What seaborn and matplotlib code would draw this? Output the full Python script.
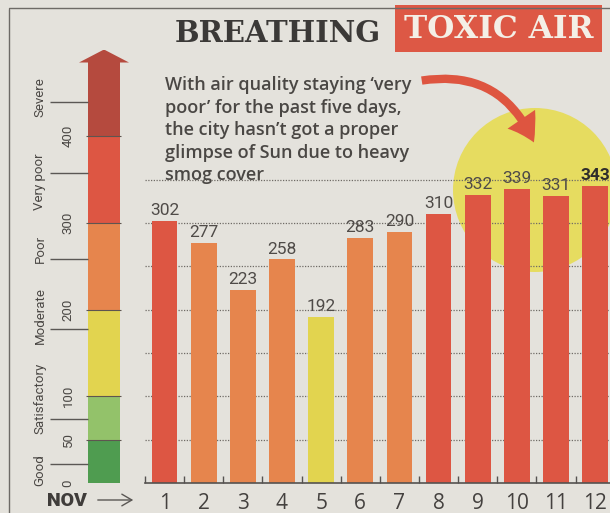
import matplotlib
matplotlib.use("Agg")
import matplotlib.pyplot as plt
import seaborn as sns
from matplotlib import font_manager
from matplotlib.patches import Circle, Polygon, FancyArrowPatch, Rectangle

# Daily AQI, November
days = ["1", "2", "3", "4", "5", "6", "7", "8", "9", "10", "11", "12"]
aqi = [302, 277, 223, 258, 192, 283, 290, 310, 332, 339, 331, 343]

# AQI category scale
band_names = ["Good", "Satisfactory", "Moderate", "Poor", "Very poor", "Severe"]
band_lower = [0, 50, 100, 200, 300, 400]
band_upper = [50, 100, 200, 300, 400, 486]
band_colors = ["#4f9c50", "#93c26a", "#e2d44f", "#e6854d", "#dd5643", "#b54a3e"]
scale_ticks = [0, 50, 100, 200, 300, 400]

PAPER = "#e4e2dc"
INK = "#4b4845"

names = {f.name for f in font_manager.fontManager.ttflist}
NARROW = "Liberation Sans Narrow" if "Liberation Sans Narrow" in names else "Roboto"
SANS = "Open Sans"


def band_color(v):
    idx = 0
    for i, lo in enumerate(band_lower):
        if v > lo:
            idx = i
    return band_colors[idx]


bar_colors = [band_color(v) for v in aqi]

sns.set_theme(style="white")
plt.rcParams["font.family"] = [SANS, "DejaVu Sans"]

fig = plt.figure(figsize=(6.1, 5.13), dpi=100, facecolor=PAPER)

# background layer in pixel coordinates (decorations)
bg = fig.add_axes([0, 0, 1, 1], zorder=0)
bg.set_xlim(0, 610)
bg.set_ylim(513, 0)
bg.axis("off")
bg.set_facecolor(PAPER)

bg.plot([9, 9], [9, 513], color="#6d6a66", lw=1)
bg.plot([9, 610], [8, 8], color="#6d6a66", lw=1)

bg.text(175, 34, "BREATHING", ha="left", va="center", fontsize=21,
        family="DejaVu Serif", fontweight="bold", color="#3b3937")
bg.add_patch(Rectangle((395, 5), 207, 47, color="#dd5845", lw=0))
bg.text(499, 29, "TOXIC AIR", ha="center", va="center", fontsize=22.5,
        family="DejaVu Serif", fontweight="bold", color="#f4efe6")

bg.add_patch(Circle((535, 190), 82, color="#e6dc60", lw=0))

bg.text(165, 76, "With air quality staying \u2018very\npoor\u2019 for the past five days,\n"
        "the city hasn\u2019t got a proper\nglimpse of Sun due to heavy\nsmog cover",
        ha="left", va="top", fontsize=13, linespacing=1.33, fontweight="semibold",
        color="#4a4744")

bg.add_patch(FancyArrowPatch((419, 81), (535, 145), connectionstyle="arc3,rad=-0.4",
                             arrowstyle="simple,head_length=19,head_width=24,tail_width=6",
                             mutation_scale=1, color="#de5540", lw=0))

bg.text(67, 501, "NOV", ha="center", va="center", fontsize=14, fontweight="black",
        family=NARROW, color="#3f3c3a")
bg.annotate("", xy=(136, 500), xytext=(95, 500),
            arrowprops=dict(arrowstyle="->,head_length=0.6,head_width=0.35", color="#5a5754", lw=1))

y0 = 30 / 513
h = 433.5 / 513

# AQI scale on the left
sc = fig.add_axes([0, y0, 140 / 610, h], zorder=2)
sc.set_xlim(0, 140)
sc.set_ylim(0, 500)
sc.axis("off")
sc.bar([104] * len(band_names), [u - l for l, u in zip(band_lower, band_upper)],
       bottom=band_lower, width=32, color=band_colors, lw=0)
sc.add_patch(Polygon([(79, 485), (129, 485), (104, 500)], closed=True,
                     color=band_colors[-1], lw=0))
sc.hlines(band_lower[1:], 86, 121, color="#5e5550", lw=0.8)
sc.hlines([22, 74, 178, 258, 357, 440], 50, 88, color="#5a5754", lw=1)
for t in scale_ticks:
    sc.text(68, t, str(t), rotation=90, ha="center", va="center", fontsize=9.5,
            family=NARROW, color=INK)
for name, pos in zip(band_names, [15, 98, 193, 270, 348, 445]):
    sc.text(40, pos, name, rotation=90, ha="center", va="center", fontsize=9.5,
            family=NARROW, color=INK)

# main bar chart
ax = fig.add_axes([145 / 610, y0, 465 / 610, h], zorder=2)
ax.set_facecolor("none")
sns.barplot(x=days, y=aqi, hue=days, palette=bar_colors, legend=False,
            width=0.66, saturation=1, ax=ax, lw=0)
ax.set_xlim(-0.38, 11.38)
ax.set_ylim(0, 500)
ax.set_yticks(range(50, 351, 50))
ax.tick_params(axis="y", length=0, labelleft=False)
ax.yaxis.grid(True, linestyle=(0, (1, 1.2)), color="#6f6b66", lw=0.9)
ax.set_axisbelow(True)
for s in ["top", "right", "left"]:
    ax.spines[s].set_visible(False)
ax.spines["bottom"].set_color("#555250")
ax.spines["bottom"].set_linewidth(1.2)
ax.set_xticks(range(len(days)))
ax.set_xticklabels(days)
ax.set_xticks([i - 0.5 for i in range(len(days))], minor=True)
ax.tick_params(axis="x", which="major", length=0, pad=7, labelsize=15, labelcolor="#44413f")
ax.tick_params(axis="x", which="minor", direction="in", length=5, width=1,
               color="#555250", bottom=True)
ax.set_xlabel("")
ax.set_ylabel("")

peak = max(aqi)
for c in ax.containers:
    labels = ax.bar_label(c, padding=2, fontsize=12.5, family=NARROW, color="#4f4b48")
    for lab in labels:
        if lab.get_text() == str(peak):
            lab.set_fontweight("bold")
            lab.set_color("#2f2d2b")

fig.savefig("out.png", dpi=100, facecolor=PAPER)
